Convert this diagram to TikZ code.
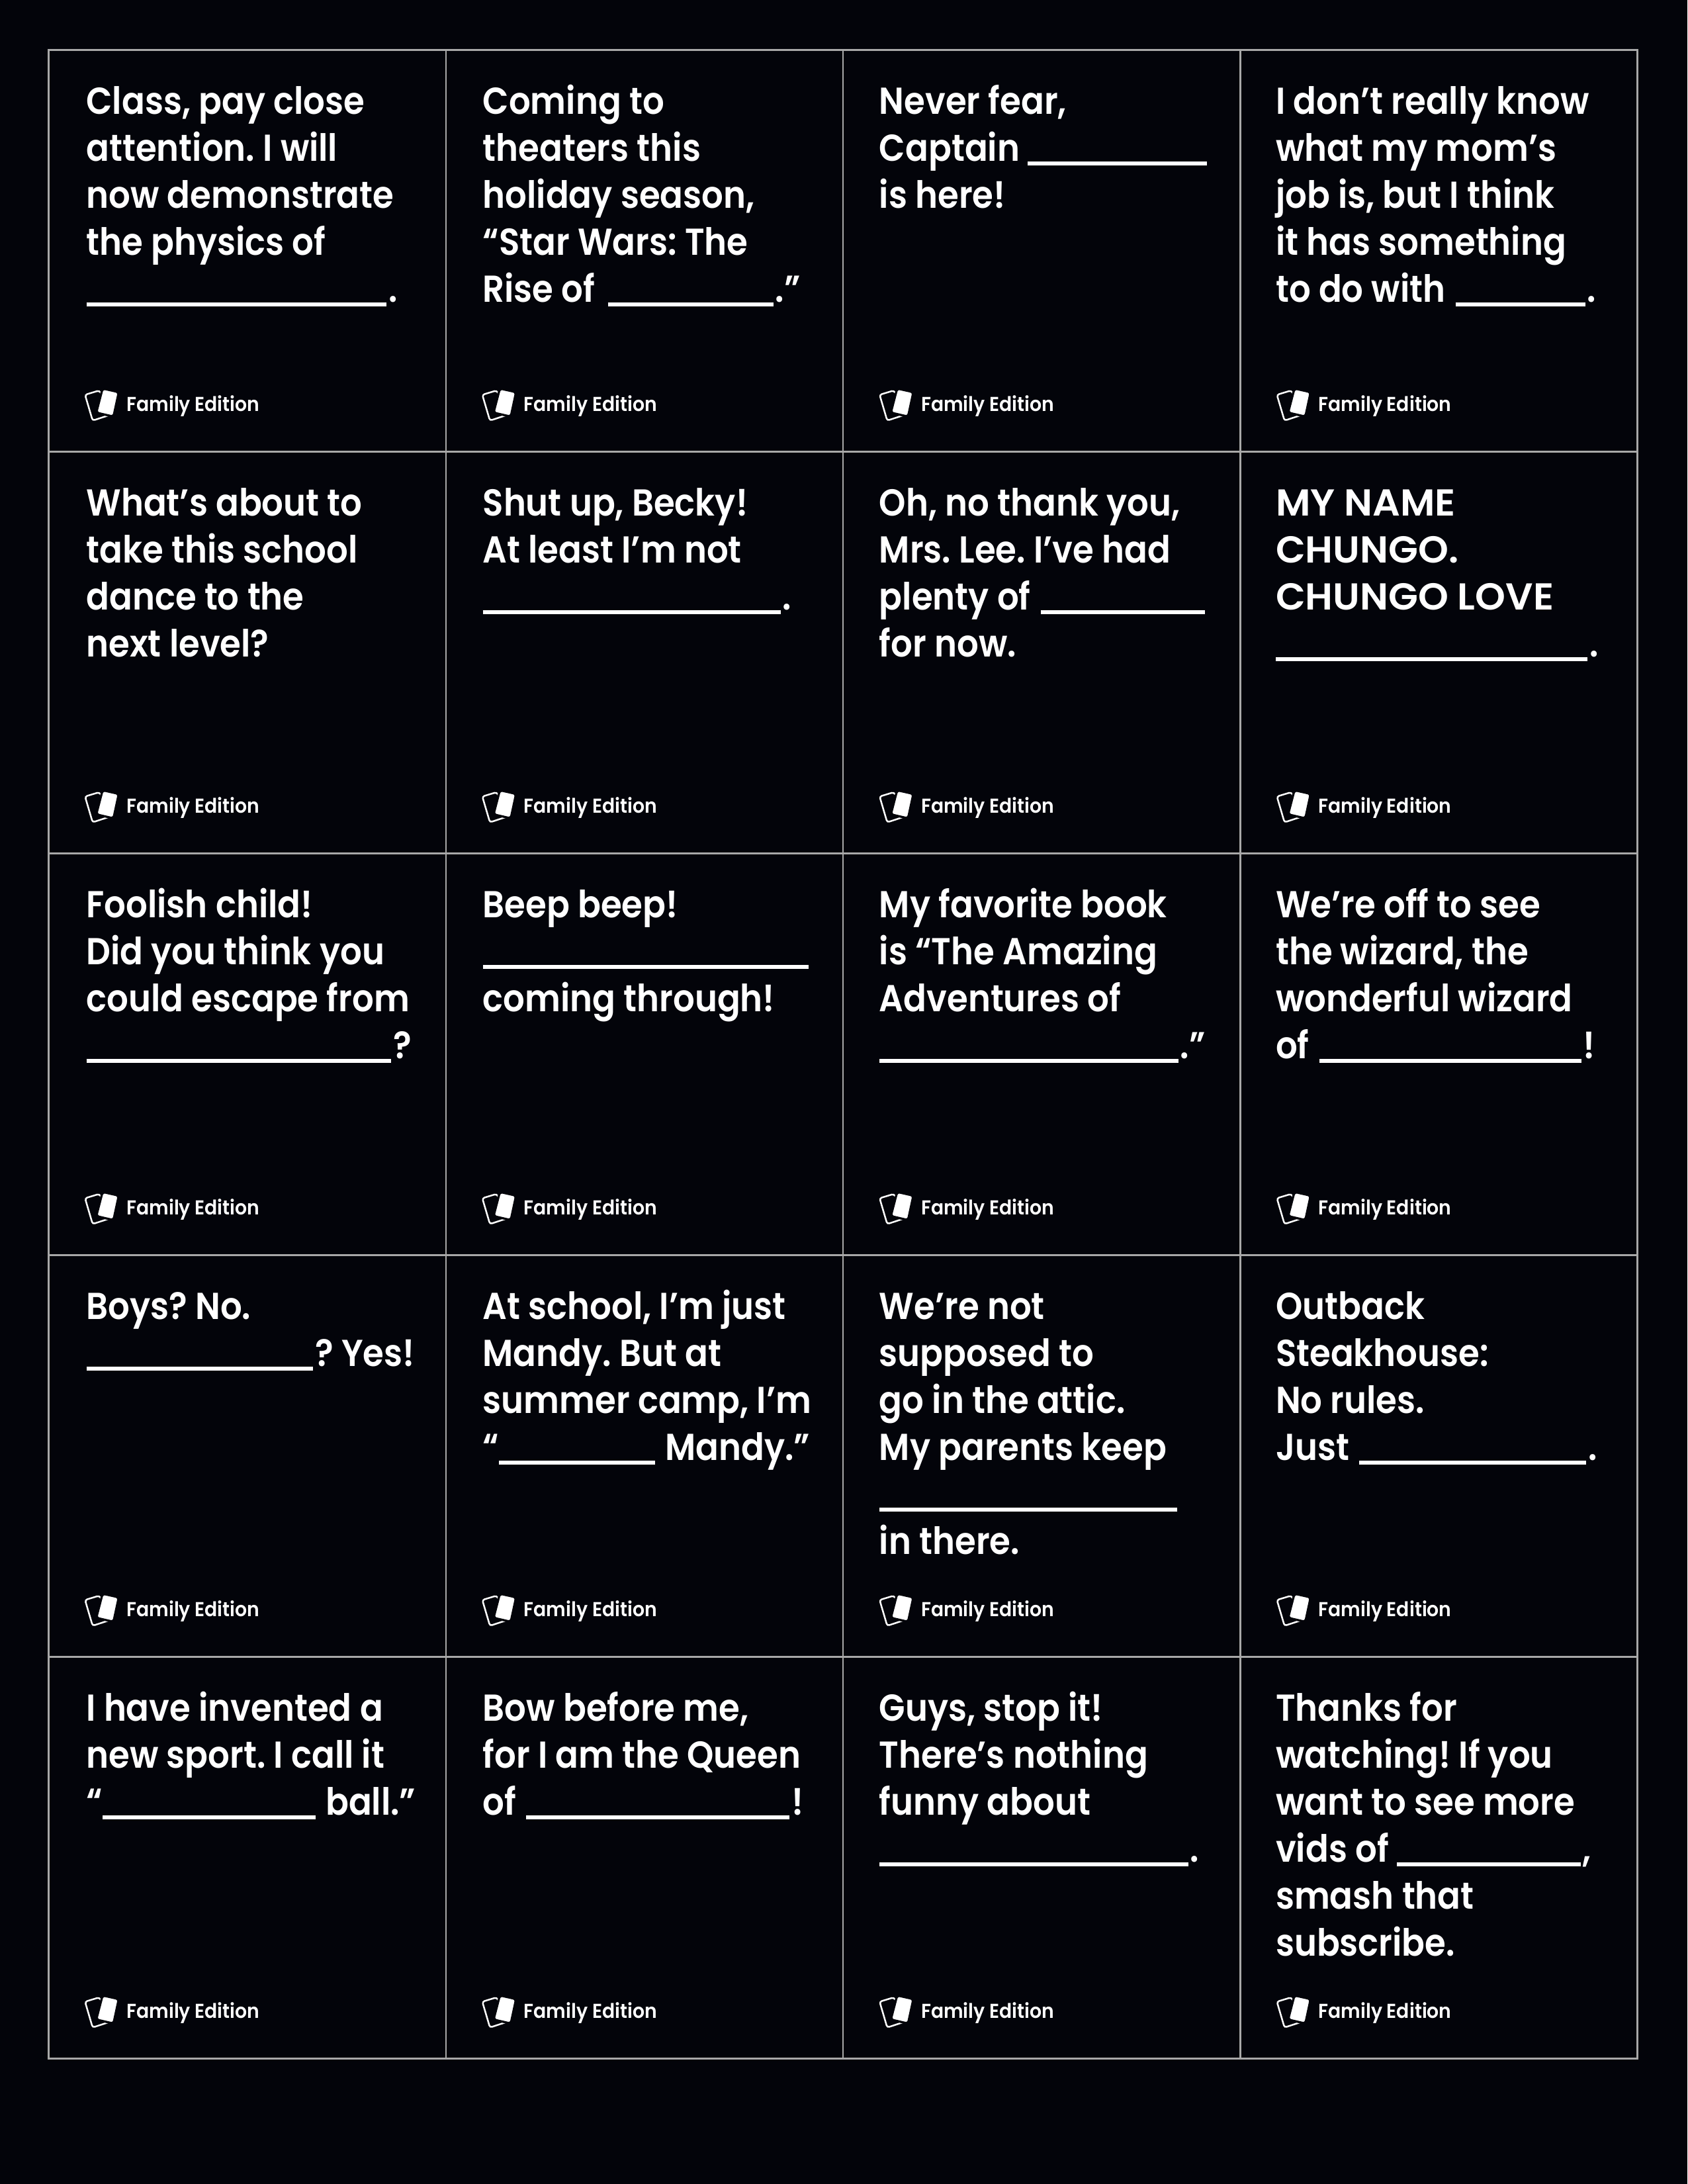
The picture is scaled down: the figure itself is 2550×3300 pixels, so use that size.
\documentclass[tikz,border=0pt]{standalone}
\usepackage{fontspec}
\setmainfont{Poppins}[UprightFont=* SemiBold,FakeStretch=0.907]
\newfontfamily\footfont{Poppins}[UprightFont=* SemiBold,FakeStretch=0.93]
\newfontfamily\capsfont{Poppins}[UprightFont=* SemiBold,FakeStretch=1.03]
\definecolor{bgc}{HTML}{03040A}
\definecolor{gridc}{HTML}{A8A8A8}
\newcommand\blk[1]{\rule[-1.44pt]{\dimexpr #1pt*24/100\relax}{1.44pt}\kern0.7pt\relax}
\newcommand\iblk[1]{\kern0.7pt\blk{#1}}
\newcommand\firststrut{\leavevmode\vrule width 0pt height 12.4pt depth 0pt\relax}
\tikzset{
  cardtext/.style={anchor=north west,inner sep=0pt,outer sep=0pt,text=white,align=left,
    font=\fontsize{13.6}{17.04}\selectfont\frenchspacing},
  foot/.style={anchor=base west,inner sep=0pt,text=white,font=\footfont\fontsize{7.3}{9}\selectfont},
  cell/.style={draw=gridc,line width=0.6pt},
  logoback/.style={draw=white,line width=0.6pt,rounded corners=0.8pt},
  logofront/.style={fill=white,draw=bgc,line width=0.8pt,rounded corners=0.9pt}
}
% col, row, text
\newcommand\card[3]{%
  \pgfmathsetmacro\cx{73.5+600.25*(#1)}%
  \pgfmathsetmacro\cy{75.5+607*(#2)}%
  \pgfmathsetmacro\tx{130.5+599.2*(#1)}%
  \pgfmathsetmacro\lx{600.4*(#1)}%
  \draw[cell] (\cx,\cy) rectangle ++(600.25,607);
  \node[cardtext,name=t#1#2] at (\tx,\cy+45.5) {\firststrut #3};
  \begin{scope}[shift={(\lx,\cy-75.5)}]
    \draw[logoback] (128.5,596.5) -- (150,590) -- (172,625) -- (140,635.5) -- cycle;
    \draw[logofront] (155,587) -- (179.5,592.5) -- (171.5,629.5) -- (145.5,623.5) -- cycle;
    \node[foot,name=f#1#2] at (190.5,621) {Family Edition};
  \end{scope}
}
\begin{document}
\begin{tikzpicture}[x=0.24pt,y=-0.24pt]
\useasboundingbox[fill=bgc] (0,0) rectangle (2550,3300);
\card{0}{0}{Class, pay close\\attention. I will\\now demonstrate\\the physics of\\\blk{454}.}
\card{1}{0}{Coming to\\theaters this\\holiday season,\\“Star Wars: The\\Rise of \kern1pt\iblk{250}.”}
\card{2}{0}{Never fear,\\Captain \blk{271}\\is here!}
\card{3}{0}{I don’t really know\\what my mom’s\\job is, but I think\\it has something\\to do with \iblk{196}.}
\card{0}{1}{What’s about to\\take this school\\dance to the\\next level?}
\card{1}{1}{Shut up, Becky!\\At least I’m not\\\blk{450}.}
\card{2}{1}{Oh, no thank you,\\Mrs. Lee. I’ve had\\plenty of \iblk{248}\\for now.}
\card{3}{1}{\capsfont MY NAME\\\capsfont CHUNGO.\\\capsfont CHUNGO LOVE\\\blk{471}.}
\card{0}{2}{Foolish child!\\Did you think you\\could escape from\\\blk{461}?}
\card{1}{2}{Beep beep!\\\blk{492}\\coming through!}
\card{2}{2}{My favorite book\\is “The Amazing\\Adventures of\\\blk{452}.”}
\card{3}{2}{We’re off to see\\the wizard, the\\wonderful wizard\\of \iblk{396}!}
\card{0}{3}{Boys? No.\\\blk{343}? Yes!}
\card{1}{3}{At school, I’m just\\Mandy. But at\\summer camp, I’m\\“\blk{236} Mandy.”}
\card{2}{3}{We’re not\\supposed to\\go in the attic.\\My parents keep\\\blk{450}\\in there.}
\card{3}{3}{Outback\\Steakhouse:\\No rules.\\Just \iblk{343}.}
\card{0}{4}{I have invented a\\new sport. I call it\\“\blk{322} ball.”}
\card{1}{4}{Bow before me,\\for I am the Queen\\of \iblk{398}!}
\card{2}{4}{Guys, stop it!\\There’s nothing\\funny about\\\blk{467}.}
\card{3}{4}{Thanks for\\watching! If you\\want to see more\\vids of \blk{278},\\smash that\\subscribe.}
\end{tikzpicture}
\end{document}
